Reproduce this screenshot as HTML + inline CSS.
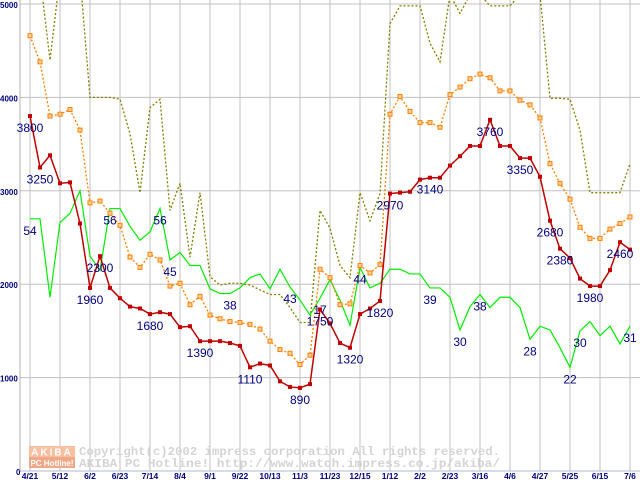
<!DOCTYPE html>
<html><head><meta charset="utf-8"><style>
body{margin:0;background:#fff;}
svg{display:block;font-family:"Liberation Sans",sans-serif;}
</style></head><body>
<svg id="chart" width="640" height="480" viewBox="0 0 640 480">
<g id="grid"></g>
<g>
<rect x="29" y="446" width="46" height="11" fill="#f8c0a0"/>
<rect x="29" y="457" width="46" height="11" fill="#f0a888"/>
<text x="52" y="455.5" font-size="10" font-weight="bold" fill="#fff" text-anchor="middle" letter-spacing="2">AKIBA</text>
<text x="52" y="466" font-size="8" font-weight="bold" fill="#fff" text-anchor="middle">PC Hotline!</text>
<text x="79" y="455" font-family="Liberation Mono,monospace" font-size="12" font-weight="bold" fill="#d4d4d4" textLength="421" lengthAdjust="spacingAndGlyphs">Copyright(c)2002 impress corporation All rights reserved.</text>
<text x="79" y="467" font-family="Liberation Mono,monospace" font-size="12" font-weight="bold" fill="#d4d4d4" textLength="421" lengthAdjust="spacingAndGlyphs">AKIBA PC Hotline! http://www.watch.impress.co.jp/akiba/</text>
</g>
<g id="series"></g>
<g id="labels"></g>
</svg>
<script>
const xLabels=["4/21","5/12","6/2","6/23","7/14","8/4","9/1","9/22","10/13","11/3","11/23","12/15","1/12","2/2","2/23","3/16","4/6","4/27","5/25","6/15","7/6"];
const yTicks=[0,1000,2000,3000,4000,5000];
const redValues=[3800,3250,3380,3080,3090,2650,1960,2300,1960,1850,1760,1740,1680,1700,1680,1540,1550,1390,1390,1390,1370,1340,1110,1150,1130,960,900,890,930,1730,1580,1370,1320,1680,1740,1820,2970,2980,2990,3120,3140,3140,3270,3370,3480,3480,3760,3480,3480,3350,3350,3150,2680,2380,2280,2060,1980,1980,2150,2450,2370];
const orangeValues=[4660,4380,3800,3820,3870,3650,2870,2890,2760,2630,2290,2180,2320,2260,1980,2010,1780,1870,1670,1630,1600,1590,1570,1520,1390,1300,1260,1140,1240,2160,2070,1780,1790,2200,2120,2210,3820,4010,3850,3730,3730,3680,4030,4110,4200,4250,4210,4070,4070,3970,3920,3780,3290,3080,2910,2610,2490,2490,2590,2650,2720];
const greenValues=[2700,2700,1860,2660,2760,3000,2300,2150,2810,2810,2620,2470,2560,2810,2260,2340,2200,2200,1950,1900,1900,1960,2070,2110,1950,2160,1970,1830,1670,1850,2050,1830,1560,2180,1960,2010,2160,2160,2110,2110,1960,1960,1860,1510,1760,1890,1750,1860,1860,1750,1410,1550,1510,1320,1110,1500,1600,1450,1550,1360,1550];
const oliveValues=[5300,5300,4400,5300,5300,5300,4000,4000,4000,3980,3610,2980,3890,3980,2790,3080,2290,2980,2080,1990,2010,2010,1990,1940,1890,1890,1750,1590,1590,2790,2600,2200,2070,2980,2680,2970,4790,4980,4980,4980,4580,4380,5100,4900,5100,5100,4980,4980,4980,5100,5100,5100,3990,3990,3980,3650,2980,2980,2980,2980,3290];
const redLabelIdx=[0,1,7,6,12,17,22,27,29,32,35,36,40,46,49,52,53,56,59];
const redLabelText=["3800","3250","2300","1960","1680","1390","1110","890","1750","1320","1820","2970","3140","3760","3350","2680","2380","1980","2460"];
const greenLabelIdx=[0,8,13,14,20,26,29,33,40,43,45,50,54,55,60];
const greenLabelText=["54","56","56","45","38","43","17","44","39","30","38","28","22","30","31"];

const NS="http://www.w3.org/2000/svg";
const X0=30, DX=10, Y0=471, KY=0.0934;
function xs(i){return X0+i*DX;}
function ys(v){return Y0-v*KY;}
function mk(tag,attrs,parent){const e=document.createElementNS(NS,tag);for(const k in attrs)e.setAttribute(k,attrs[k]);parent.appendChild(e);return e;}
const grid=document.getElementById('grid'), series=document.getElementById('series'), labels=document.getElementById('labels');

yTicks.forEach(t=>{
  const l=mk('line',{x1:20,x2:640,y1:ys(t),y2:ys(t),stroke:t===0?'#b0b8d0':'#c0c0c0','stroke-width':1},grid);
  
  
  const tx=mk('text',{x:t===0?16:0,y:ys(t)+4,'font-size':8,'font-weight':'bold',fill:'#000080'},grid);
  tx.textContent=String(t);
  
  
});
const ax=mk('line',{x1:20,x2:20,y1:0,y2:Y0,stroke:'#b0b0b0'},grid);


xLabels.forEach((lab,j)=>{
  const x=xs(j*3);
  const l=mk('line',{x1:x,x2:x,y1:0,y2:Y0,stroke:'#c0c0c0'},grid);
  
  
  const tx=mk('text',{x:x,y:479,'font-size':8.5,'font-weight':'bold',fill:'#000080','text-anchor':'middle'},grid);
  tx.textContent=lab;
  
  
});

function pts(vals){return vals.map((v,i)=>xs(i)+','+ys(v)).join(' ');}
const olive=mk('polyline',{points:pts(oliveValues),fill:'none',stroke:'#808000','stroke-width':1.3,'stroke-dasharray':'2,2'},series);


const green=mk('polyline',{points:pts(greenValues),fill:'none',stroke:'#00ee00','stroke-width':1.2},series);


const orange=mk('polyline',{points:pts(orangeValues),fill:'none',stroke:'#ff8000','stroke-width':1.3,'stroke-dasharray':'2,2'},series);


orangeValues.forEach((v,i)=>{
  const r=mk('rect',{x:xs(i)-2,y:ys(v)-2,width:4,height:4,fill:'#ffd0a0',stroke:'#ff8000','stroke-width':1},series);
  
  
});
const red=mk('polyline',{points:pts(redValues),fill:'none',stroke:'#c00000','stroke-width':1.5},series);


redValues.forEach((v,i)=>{
  const r=mk('rect',{x:xs(i)-2,y:ys(v)-2,width:4,height:4,fill:'#c00000'},series);
  
  
});
redLabelIdx.forEach((idx,k)=>{
  const t=mk('text',{x:xs(idx),y:ys(redValues[idx])+16,'font-size':12,fill:'#000080','text-anchor':'middle'},labels);
  t.textContent=redLabelText[k];
  
  
});
greenLabelIdx.forEach((idx,k)=>{
  const t=mk('text',{x:xs(idx),y:ys(greenValues[idx])+16,'font-size':12,fill:'#000080','text-anchor':'middle'},labels);
  t.textContent=greenLabelText[k];
  
  
});
</script>
</body></html>
